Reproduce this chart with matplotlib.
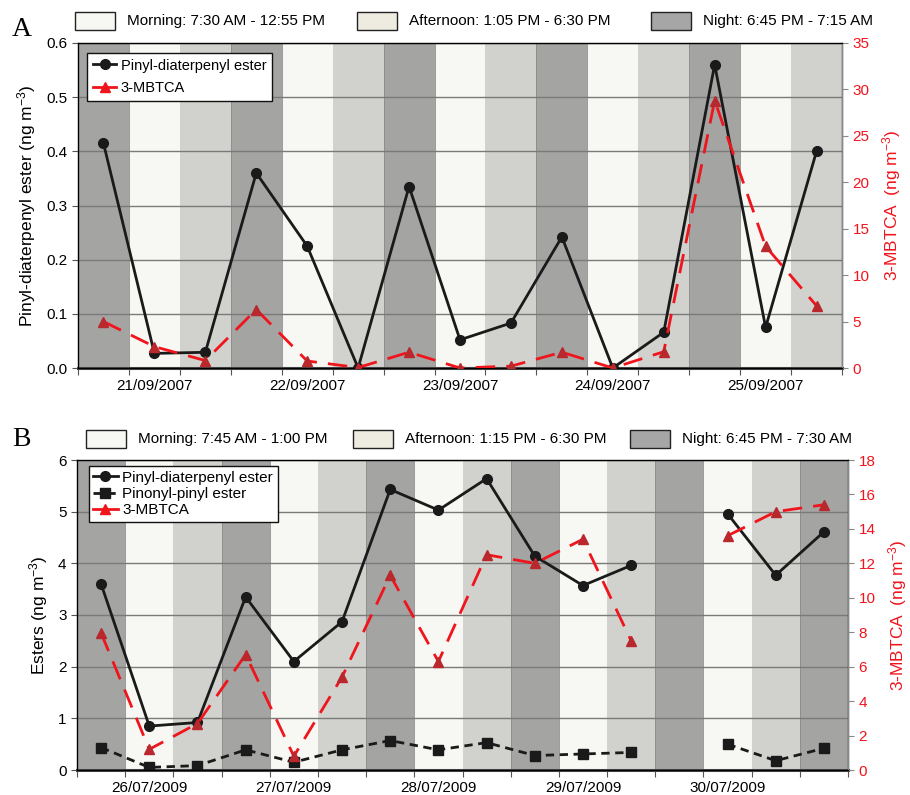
import numpy as np
import matplotlib
matplotlib.use("Agg")
import matplotlib.pyplot as plt
from matplotlib.patches import Rectangle
from matplotlib.lines import Line2D

plt.rcParams['font.family'] = ['Liberation Sans', 'DejaVu Sans']
plt.rcParams['mathtext.default'] = 'regular'
NARROW = ['Liberation Sans Narrow', 'Liberation Sans', 'DejaVu Sans']

# ---- data, panel A (2007) ----
a_dates = ["21/09/2007", "22/09/2007", "23/09/2007", "24/09/2007", "25/09/2007"]
a_pinyl = [0.415, 0.027, 0.029, 0.36, 0.225, 0.0, 0.335, 0.052, 0.083,
           0.242, 0.0, 0.066, 0.56, 0.075, 0.40]
a_mbtca = [5.0, 2.3, 0.8, 6.3, 0.75, 0.05, 1.7, 0.0, 0.2, 1.7, 0.0, 1.75,
           28.8, 13.1, 6.7]
a_periods = ["Morning: 7:30 AM - 12:55 PM", "Afternoon: 1:05 PM - 6:30 PM",
             "Night: 6:45 PM - 7:15 AM"]

# ---- data, panel B (2009) ----
b_dates = ["26/07/2009", "27/07/2009", "28/07/2009", "29/07/2009", "30/07/2009"]
b_pinyl = [3.6, 0.85, 0.92, 3.35, 2.1, 2.87, 5.43, 5.03, 5.64, 4.14, 3.57,
           3.96, np.nan, 4.96, 3.77, 4.61]
b_pinonyl = [0.435, 0.05, 0.085, 0.39, 0.15, 0.39, 0.57, 0.39, 0.53, 0.28,
             0.31, 0.34, np.nan, 0.50, 0.18, 0.42]
b_mbtca = [7.95, 1.2, 2.7, 6.7, 0.8, 5.4, 11.3, 6.3, 12.5, 12.0, 13.4, 7.5,
           np.nan, 13.6, 15.0, 15.4]
b_periods = ["Morning: 7:45 AM - 1:00 PM", "Afternoon: 1:15 PM - 6:30 PM",
             "Night: 6:45 PM - 7:30 AM"]

BAND_COLORS = ["#a4a4a3", "#f7f7f3", "#d1d1cd"]   # night, morning, afternoon
BOX_COLORS = ["#f7f7f3", "#eeebe0", "#a6a6a6"]    # morning, afternoon, night
RED = "#f0141c"
TRI = "#b8282c"
DARK = "#1a1a1a"

fig = plt.figure(figsize=(9.1, 7.95), dpi=100)


def panel(rect, n, dates, ylim_l, yticks_l, lfmt, ylim_r, yticks_r, ylabel):
    ax = fig.add_axes(rect)
    for i in range(n):
        ax.axvspan(i - 0.5, i + 0.5, color=BAND_COLORS[i % 3], zorder=0, lw=0)
        if i % 3 == 0:
            ax.axvline(i - 0.5, color="#8c8c8c", lw=0.6, zorder=0.2)
            ax.axvline(i + 0.5, color="#8c8c8c", lw=0.6, zorder=0.2)
    ax.set_xlim(-0.5, n - 0.5)
    ax.set_ylim(*ylim_l)
    ax.set_yticks(yticks_l)
    ax.set_yticklabels([lfmt.format(v) for v in yticks_l], family=NARROW, fontsize=11)
    ax.set_axisbelow(True)
    ax.yaxis.grid(True, color="#7a7a7a", lw=1.0)
    ax.set_xticks(np.arange(-0.5, n, 1.0))
    ax.set_xticklabels([])
    ax.set_xticks([1, 4, 7, 10, 13], minor=True)
    ax.set_xticklabels(dates, minor=True, family=NARROW, fontsize=11)
    ax.tick_params(axis="x", which="minor", length=0, pad=8)
    ax.tick_params(axis="x", which="major", length=5, color="#555555")
    ax.tick_params(axis="y", length=4, color="#555555")
    ax.set_ylabel(ylabel, fontsize=12.5, labelpad=6)
    for s in ["left", "top", "right"]:
        ax.spines[s].set_color("#333333")
        ax.spines[s].set_linewidth(1.0)
    ax.spines["bottom"].set_color("#444444")
    ax.spines["bottom"].set_linewidth(2.2)

    ax2 = ax.twinx()
    ax2.set_ylim(*ylim_r)
    ax2.set_yticks(yticks_r)
    ax2.set_yticklabels([str(v) for v in yticks_r], family=NARROW,
                        fontsize=11, color=RED)
    ax2.tick_params(axis="y", length=4, color="#888888")
    ax2.set_ylabel("3-MBTCA  (ng m$^{-3}$)", color=RED, fontsize=12.5, labelpad=8)
    ax2.spines["right"].set_color("#888888")
    return ax, ax2


def period_legend(y, xs, labels):
    for j, (x, lab) in enumerate(zip(xs, labels)):
        fig.add_artist(Rectangle((x / 910, 1 - (y + 9) / 795), 40 / 910, 18 / 795,
                                 transform=fig.transFigure, facecolor=BOX_COLORS[j],
                                 edgecolor="#222222", lw=1.0))
        fig.text((x + 52) / 910, 1 - y / 795, lab, family=NARROW, fontsize=11,
                 va="center", ha="left")


# ---- panel A ----
axA, axA2 = panel([78 / 910, 1 - 368 / 795, 764 / 910, 325 / 795], 15, a_dates,
                  (0, 0.6), np.arange(0, 0.61, 0.1), "{:.1f}",
                  (0, 35), list(range(0, 36, 5)),
                  "Pinyl-diaterpenyl ester (ng m$^{-3}$)")
xa = np.arange(len(a_pinyl))
axA.plot(xa, a_pinyl, "-o", color=DARK, lw=2, ms=7, zorder=3)
axA2.plot(xa, a_mbtca, "--^", color=RED, lw=2, ms=7.5, dashes=(7, 4),
          markerfacecolor=TRI, markeredgecolor=TRI, zorder=3)
hA = [Line2D([], [], color=DARK, marker="o", lw=2, ms=7),
      Line2D([], [], color=RED, marker="^", lw=2, ms=7.5)]
axA2.legend(hA, ["Pinyl-diaterpenyl ester", "3-MBTCA"], loc="upper left",
            bbox_to_anchor=(0.012, 0.97), fancybox=False, edgecolor="#111111",
            framealpha=1, fontsize=10.5, handlelength=1.6, handletextpad=0.3,
            borderpad=0.4, labelspacing=0.6, borderaxespad=0)
period_legend(21, [75, 357, 651], a_periods)
fig.text(12 / 910, 1 - 30 / 795, "A", family=["Liberation Serif", "DejaVu Serif"],
         fontsize=20, va="center")

# ---- panel B ----
axB, axB2 = panel([77 / 910, 1 - 770 / 795, 771 / 910, 310 / 795], 16, b_dates,
                  (0, 6), list(range(0, 7)), "{:d}",
                  (0, 18), list(range(0, 19, 2)), "Esters (ng m$^{-3}$)")
xb = np.arange(len(b_pinyl))
axB.plot(xb, b_pinyl, "-o", color=DARK, lw=2, ms=7, zorder=3)
axB.plot(xb, b_pinonyl, "--s", color=DARK, lw=2, ms=6.5, dashes=(3, 2), zorder=3)
axB2.plot(xb, b_mbtca, "--^", color=RED, lw=2, ms=7.5, dashes=(7, 4),
          markerfacecolor=TRI, markeredgecolor=TRI, zorder=3)
hB = [Line2D([], [], color=DARK, marker="o", lw=2, ms=7),
      Line2D([], [], color=DARK, marker="s", lw=2, ms=6.5, dashes=(3, 2)),
      Line2D([], [], color=RED, marker="^", lw=2, ms=7.5)]
axB2.legend(hB, ["Pinyl-diaterpenyl ester", "Pinonyl-pinyl ester", "3-MBTCA"],
            loc="upper left", bbox_to_anchor=(0.015, 0.98), fancybox=False,
            edgecolor="#111111", framealpha=1, fontsize=11, handlelength=1.6,
            handletextpad=0.3, borderpad=0.3, labelspacing=0.15, borderaxespad=0)
period_legend(439, [86, 353, 630], b_periods)
fig.text(12 / 910, 1 - 440 / 795, "B", family=["Liberation Serif", "DejaVu Serif"],
         fontsize=20, va="center")

fig.savefig("out.png", dpi=100)
